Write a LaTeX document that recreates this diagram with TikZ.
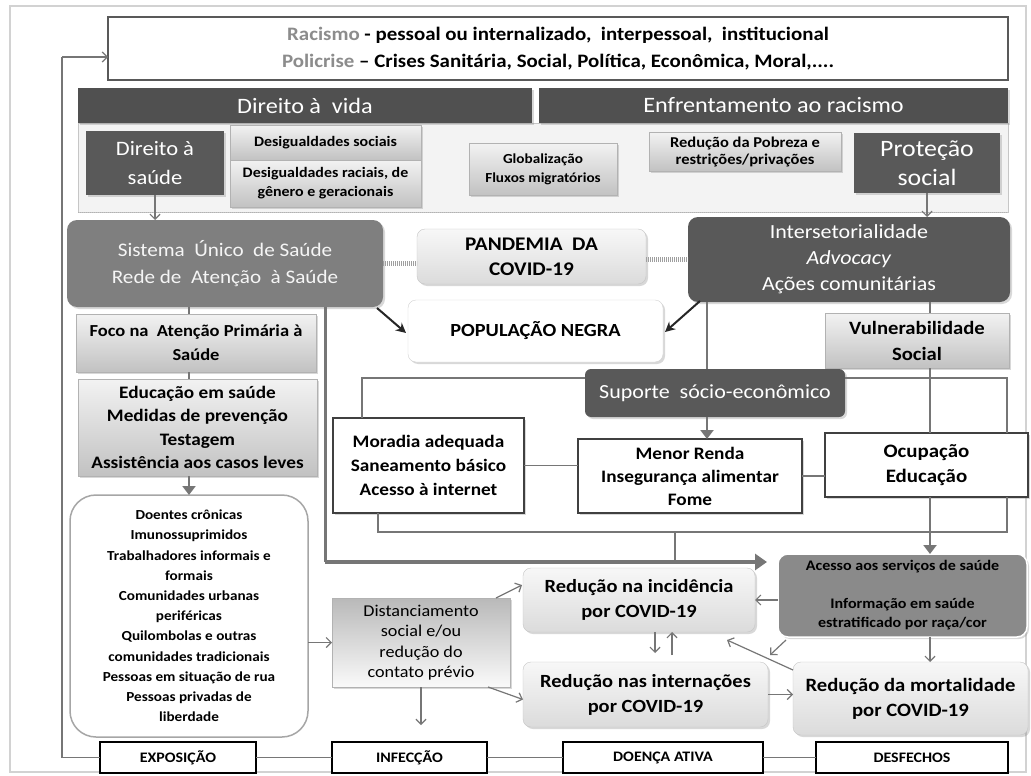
\documentclass[tikz,border=0pt]{standalone}
\usepackage{fontspec}
\setmainfont{Carlito}[FakeStretch=1.1]
\usetikzlibrary{shadows,arrows.meta,calc}
\definecolor{dk}{HTML}{595959}
\definecolor{hdr}{HTML}{505050}
\definecolor{mid}{HTML}{7F7F7F}
\definecolor{acc}{HTML}{8A8A8A}
\definecolor{ln}{HTML}{767676}
\definecolor{pan}{HTML}{F3F3F3}
\definecolor{txg}{HTML}{8C8C8C}
\tikzset{
 nb/.style={anchor=north west, inner sep=0pt, outer sep=0pt, align=center},
 shd/.style={drop shadow={opacity=0.3,shadow xshift=2pt,shadow yshift=-2pt}},
 darkbox/.style={nb, fill=dk, text=white, shd},
 hdrbox/.style={nb, fill=hdr, text=white, font=\fontsize{22}{24}\selectfont, shd},
 gradbox/.style={nb, draw=gray!60, top color=gray!10, bottom color=gray!48, shd},
 roundlight/.style={nb, rounded corners=8pt, draw=gray!45, top color=gray!6, bottom color=gray!28, shd},
 whitebox/.style={nb, draw=black!75, line width=2pt, fill=white, shd, font=\fontsize{17.5}{24}\selectfont\bfseries},
 stagebox/.style={nb, draw=black, line width=2pt, fill=white, font=\fontsize{14.5}{16}\selectfont\bfseries},
 thinarr/.style={draw=ln, line width=1.2pt, -{Straight Barb[length=5pt,width=10pt]}},
 link/.style={draw=ln, line width=2.5pt},
 thinlink/.style={draw=ln, line width=1.5pt},
 fatarr/.style={draw=ln, line width=2.5pt, -{Triangle[length=9pt,width=13pt]}},
 blkarr/.style={draw=black!85, line width=2pt, -{Stealth[length=10pt,width=10pt]}},
 dotlink/.style={draw=gray!75, line width=5pt, dash pattern=on 1.2pt off 0.8pt},
}
\begin{document}
\begin{tikzpicture}[x=1pt,y=-1pt]
\useasboundingbox (0,0) rectangle (1031,776);
\fill[white] (0,0) rectangle (1031,776);
\draw[gray!35, line width=1.5pt] (10,6) rectangle (1026,772);

% top box
\node[nb, draw=gray!70!black, line width=1.2pt, fill=white, minimum width=900pt, minimum height=63pt,
  font=\fontsize{19}{27}\selectfont\bfseries] (top) at (108,17)
  {{\color{txg}Racismo} - pessoal ou internalizado,\ \ interpessoal,\ \ institucional\\
   {\color{txg}Policrise} – Crises Sanitária, Social, Política, Econômica, Moral,....};

% panel and headers
\node[nb, fill=pan, draw=gray!45, minimum width=930pt, minimum height=89pt] (panel) at (78,123) {};
\draw[gray!60, densely dotted, line width=1pt] (panel.south west) -- (panel.south east);
\node[hdrbox, minimum width=454pt, minimum height=35pt] (hdrL) at (78,88) {Direito à\ \ vida};
\node[hdrbox, minimum width=469pt, minimum height=35pt] (hdrR) at (539,88) {Enfrentamento ao racismo};

\node[darkbox, minimum width=138pt, minimum height=64pt, font=\fontsize{20.5}{29}\selectfont] (dsaude) at (86,131) {Direito à\\saúde};
\node[gradbox, minimum width=191pt, minimum height=35pt, font=\fontsize{14.5}{17}\selectfont\bfseries] (desig1) at (230,125) {Desigualdades sociais};
\node[gradbox, minimum width=191pt, minimum height=47pt, font=\fontsize{14.5}{19}\selectfont\bfseries] (desig2) at (230,160) {Desigualdades raciais, de\\gênero e geracionais};
\node[gradbox, minimum width=148pt, minimum height=52pt, font=\fontsize{13.8}{19}\selectfont\bfseries] (glob) at (469,143) {Globalização\\Fluxos migratórios};
\node[gradbox, minimum width=192pt, minimum height=39pt, font=\fontsize{15}{17}\selectfont\bfseries] (pobreza) at (649,132) {Redução da Pobreza e\\restrições/privações};
\node[darkbox, minimum width=146pt, minimum height=60pt, font=\fontsize{23.5}{29}\selectfont] (protecao) at (854,133) {Proteção\\social};

% middle
\node[nb, rounded corners=10pt, fill=mid, text=gray!8, minimum width=316pt, minimum height=87pt, shd, font=\fontsize{19.2}{27}\selectfont] (sus) at (67,220) {Sistema\ \ Único\ \ de Saúde\\Rede de\ \ Atenção\ \ à Saúde};
\node[roundlight, minimum width=229pt, minimum height=55pt, font=\fontsize{19.3}{25}\selectfont\bfseries] (pand) at (417,229) {PANDEMIA\ \ DA\\COVID-19};
\node[darkbox, rounded corners=10pt, minimum width=322pt, minimum height=85pt, font=\fontsize{20}{26}\selectfont] (inter) at (688,217) {Intersetorialidade\\\textit{Advocacy}\\Ações comunitárias};
\node[nb, rounded corners=8pt, draw=gray!35, fill=white, minimum width=255pt, minimum height=62pt, shd, font=\fontsize{18.5}{24}\selectfont\bfseries] (pop) at (408,300) {POPULAÇÃO NEGRA};
\node[gradbox, minimum width=240pt, minimum height=58pt, font=\fontsize{16.8}{24}\selectfont\bfseries] (foco) at (76,314) {Foco na\ \ Atenção Primária à\\Saúde};
\node[gradbox, minimum width=239pt, minimum height=97pt, font=\fontsize{17.5}{23.5}\selectfont\bfseries] (educ) at (78,379) {Educação em saúde\\Medidas de prevenção\\Testagem\\Assistência aos casos leves};
\node[gradbox, minimum width=184pt, minimum height=55pt, font=\fontsize{18.8}{26}\selectfont\bfseries] (vuln) at (825,313) {Vulnerabilidade\\Social};
\node[darkbox, rounded corners=6pt, minimum width=260pt, minimum height=48pt, font=\fontsize{20}{24}\selectfont] (suporte) at (585,369) {Suporte\ \ sócio-econômico};
\node[whitebox, minimum width=191pt, minimum height=95pt] (moradia) at (333,418) {Moradia adequada\\Saneamento básico\\Acesso à internet};
\node[whitebox, minimum width=224pt, minimum height=74pt, font=\fontsize{17.5}{23}\selectfont\bfseries] (renda) at (578,439) {Menor Renda\\Insegurança alimentar\\Fome};
\node[whitebox, minimum width=203pt, minimum height=64pt, font=\fontsize{19}{25}\selectfont\bfseries] (ocup) at (825,433) {Ocupação\\Educação};

% lower
\node[nb, rounded corners=26pt, draw=gray!70, line width=1.5pt, fill=white, minimum width=238pt, minimum height=242pt, font=\fontsize{13.8}{20.2}\selectfont\bfseries] (doentes) at (70,495)
 {Doentes crônicas\\Imunossuprimidos\\Trabalhadores informais e\\formais\\Comunidades urbanas\\periféricas\\Quilombolas e outras\\comunidades tradicionais\\Pessoas em situação de rua\\Pessoas privadas de\\liberdade};
\node[nb, draw=gray!60, top color=gray!55, bottom color=gray!4, minimum width=178pt, minimum height=89pt, shd, font=\fontsize{16.5}{20.5}\selectfont] (dist) at (332,598) {Distanciamento\\social e/ou\\redução do\\contato prévio};
\node[roundlight, minimum width=232pt, minimum height=64pt, font=\fontsize{18.6}{25}\selectfont\bfseries] (inc) at (523,568) {Redução na incidência\\por COVID-19};
\node[roundlight, minimum width=245pt, minimum height=65pt, font=\fontsize{18.6}{25}\selectfont\bfseries] (intern) at (523,662) {Redução nas internações\\por COVID-19};
\node[roundlight, minimum width=235pt, minimum height=73pt, font=\fontsize{18.8}{25}\selectfont\bfseries] (mort) at (793,662) {Redução da mortalidade\\por COVID-19};
\node[nb, rounded corners=10pt, fill=acc, draw=white, line width=1.5pt, minimum width=249pt, minimum height=83pt, shd, font=\fontsize{14.6}{19}\selectfont\bfseries] (acesso) at (778,554) {Acesso aos serviços de saúde\\[19pt]Informação em saúde\\estratificado por raça/cor};

% stages
\node[stagebox, minimum width=156pt, minimum height=31pt] (expo) at (100,742) {EXPOSIÇÃO};
\node[stagebox, minimum width=155pt, minimum height=31pt] (infec) at (332,742) {INFECÇÃO};
\node[stagebox, minimum width=200pt, minimum height=31pt] (doenca) at (563,742) {DOENÇA ATIVA};
\node[stagebox, minimum width=192pt, minimum height=31pt] (desf) at (816,742) {DESFECHOS};

% coordinates for free ends / corners
\coordinate (loopc) at (62,57);
\coordinate (bigA) at (325,562);
\coordinate (bigB) at (767,562);
\coordinate (bl) at (378,532);
\coordinate (br) at (1007,532);
\coordinate (bm) at (675,532);
\coordinate (xL) at (707,0);
\coordinate (xV) at (930,0);
\coordinate (xR) at (1007,0);
\coordinate (xM) at (362,0);
\coordinate (yS) at (0,378);

% connectors
\draw[thinlink] (expo.west) -| (loopc);
\draw[thinarr] (loopc) -- (top.west |- loopc);
\draw[thinlink] (expo.east) -- (infec.west);
\draw[thinlink] (infec.east) -- (doenca.west);
\draw[thinlink] (doenca.east) -- (desf.west);

\draw[thinarr] (dsaude.south) -- (dsaude.south |- sus.north);
\draw[thinarr] (protecao.south) -- (protecao.south |- inter.north);

\draw[dotlink] (sus.east) -- (sus.east -| pand.west);
\draw[dotlink] (pand.east |- inter.west) -- (inter.west);

\draw[blkarr] ($(sus.south east)+(-6,1)$) -- ($(pop.west)+(-2,2)$);
\draw[blkarr] ($(inter.south west)+(12,-1)$) -- ($(pop.east)+(2,1)$);

\draw[link] (doentes.north |- sus.south) -- (doentes.north |- foco.north);
\draw[link] (doentes.north |- foco.south) -- (doentes.north |- educ.north);
\draw[fatarr] (doentes.north |- educ.south) -- (doentes.north);

\draw[link, line width=3pt] (sus.south -| bigA) -- (bigA);
\draw[draw=ln, line width=4pt, -{Triangle[length=12pt,width=16pt]}] (bigA) -- (bigB);

\draw[link] (inter.south -| xL) -- (suporte.north -| xL);
\draw[link] (inter.south -| xV) -- (vuln.north -| xV);
\draw[link] (suporte.west |- yS) -| (moradia.north -| xM);
\draw[link] (suporte.east |- yS) -| (ocup.north -| xR);
\draw[link] (vuln.south -| xV) -- (ocup.north -| xV);
\draw[fatarr] (suporte.south -| xL) -- (renda.north -| xL);
\draw[thinlink] (moradia.east) -- (moradia.east -| renda.west);
\draw[thinlink] (renda.east) -- (renda.east -| ocup.west);
\draw[link] (moradia.south -| bl) -- (bl) -- (br) -- (ocup.south -| br);
\draw[link] (bm) -- (bm |- bigA);
\draw[fatarr] (ocup.south -| xV) -- (acesso.north -| xV);

\draw[thinarr] (doentes.east |- dist.west) -- (dist.west);
\draw[thinarr, shorten >=17pt] (dist.south) -- (dist.south |- infec.north);
\draw[thinarr] ($(dist.north east)+(-14,0)$) -- ($(inc.west)+(-1,-15)$);
\draw[thinarr] ($(dist.south east)+(-22,0)$) -- ($(intern.west)+(0,5)$);
\draw[thinarr] (acesso.west |- inc.east) -- (inc.east);
\draw[thinarr] (acesso.south -| xV) -- (mort.north -| xV);
\draw[thinarr] ($(acesso.south west)+(8,3)$) -- ($(intern.north east)+(2,-7)$);
\draw[thinarr] ($(mort.north west)+(0,8)$) -- ($(inc.south east)+(-28,8)$);
\coordinate (xd) at (655,0);
\coordinate (xu) at (672,0);
\draw[thinarr, shorten >=9pt] (inc.south -| xd) -- (intern.north -| xd);
\draw[thinarr, shorten <=7pt] (intern.north -| xu) -- (inc.south -| xu);
\draw[thinarr] (intern.east) -- (intern.east -| mort.west);
\end{tikzpicture}
\end{document}
